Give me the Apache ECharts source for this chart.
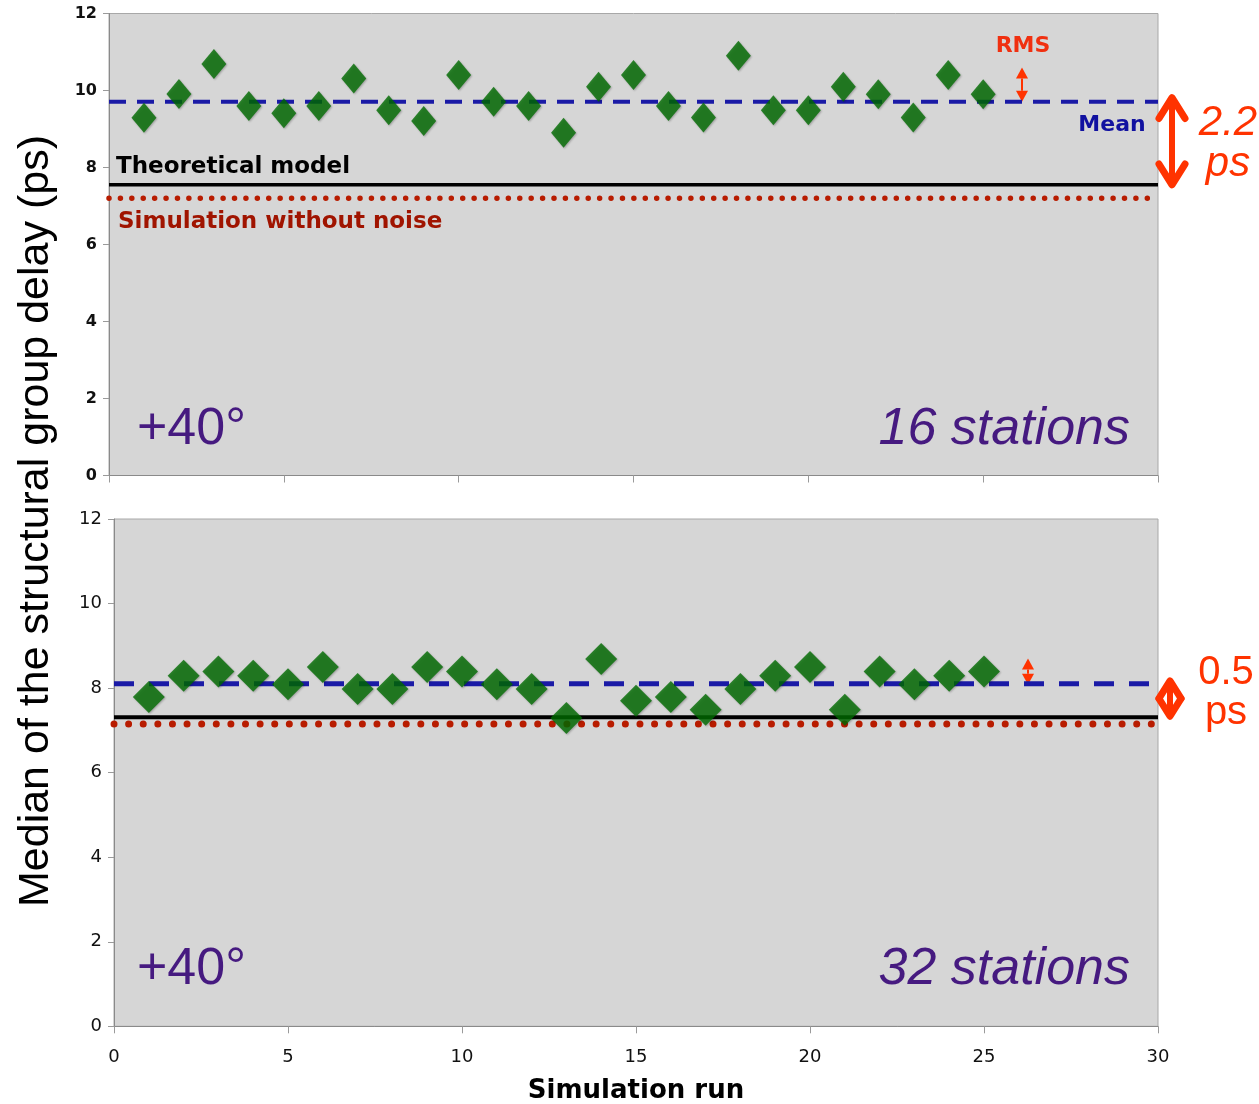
<!DOCTYPE html>
<html>
<head>
<meta charset="utf-8">
<script src="https://cdn.jsdelivr.net/npm/echarts@6/dist/echarts.min.js"></script>
<style>
html,body{margin:0;padding:0;background:#fff;}
#chart{width:1259px;height:1104px;}
</style>
</head>
<body>
<div id="chart"></div>
<script>
// ---- data ----
const runs = [1,2,3,4,5,6,7,8,9,10,11,12,13,14,15,16,17,18,19,20,21,22,23,24,25];
const delays16 = [9.29,9.91,10.69,9.6,9.41,9.6,10.31,9.49,9.21,10.4,9.71,9.6,8.9,10.1,10.4,9.6,9.3,10.9,9.49,9.49,10.1,9.9,9.3,10.4,9.9];
const delays32 = [7.79,8.29,8.39,8.29,8.09,8.5,7.98,7.98,8.5,8.39,8.09,7.98,7.29,8.69,7.7,7.79,7.49,7.98,8.29,8.5,7.49,8.39,8.09,8.29,8.39];
const mean16 = 9.71, model16 = 7.55, noNoise16 = 7.2;
const mean32 = 8.1, model32 = 7.31, noNoise32 = 7.15;
const xRange = [0, 30];
const yTicks = [0, 2, 4, 6, 8, 10, 12];

const GREEN = '#006b00', BLUE = '#1a1aa6', DOT = '#b81c00', ARROW = '#ff3300', PURPLE = '#461a80';

function pts(xs, ys){ return xs.map((x,i)=>[x, ys[i]]); }
function hline(v){ return [[xRange[0], v],[xRange[1], v]]; }

const chart = echarts.init(document.getElementById('chart'), null, {renderer:'canvas'});

const grids = [
  {left:109, top:13.5, width:1049, height:462, show:true, backgroundColor:'#d6d6d6', borderColor:'#a8a8a8', borderWidth:1},
  {left:114, top:519, width:1044, height:507.3, show:true, backgroundColor:'#d6d6d6', borderColor:'#a8a8a8', borderWidth:1}
];

function xAxis(idx, showLabel){
  return {type:'value', gridIndex:idx, min:xRange[0], max:xRange[1], interval:5,
    axisLine:{show:true, onZero:false, lineStyle:{color:'#8a8a8a', width:1}},
    axisTick:{show:true, length:7, lineStyle:{color:'#9a9a9a'}},
    splitLine:{show:false},
    axisLabel:{show:showLabel, color:'#111', fontFamily:'DejaVu Sans', fontSize:18, margin:22}
  };
}
function yAxis(idx, bold, size){
  return {type:'value', gridIndex:idx, min:yTicks[0], max:yTicks[yTicks.length-1], interval:2,
    axisLine:{show:true, onZero:false, lineStyle:{color:'#8a8a8a', width:1}},
    axisTick:{show:true, length:6, lineStyle:{color:'#9a9a9a'}},
    splitLine:{show:false},
    axisLabel:{color:'#111', fontFamily:'DejaVu Sans', fontWeight: bold?'bold':'normal', fontSize:size, margin:12}
  };
}

function lineSeries(idx, v, style){
  return {type:'line', xAxisIndex:idx, yAxisIndex:idx, data:hline(v), symbol:'none', silent:true,
    lineStyle:style, z:2, animation:false};
}

const diamondStyle = {color:GREEN, shadowColor:'rgba(0,0,0,0.3)', shadowBlur:2, shadowOffsetX:1, shadowOffsetY:1};

const option = {
  animation:false,
  grid: grids,
  xAxis: [xAxis(0,false), xAxis(1,true)],
  yAxis: [yAxis(0,true,16), yAxis(1,false,18)],
  series: [
    lineSeries(0, noNoise16, {color:DOT, width:5.5, type:[0.01, 11.4], cap:'round'}),
    lineSeries(0, model16, {color:'#000', width:3.5}),
    lineSeries(0, mean16, {color:BLUE, width:4, type:[17, 11]}),
    {type:'scatter', xAxisIndex:0, yAxisIndex:0, data:pts(runs, delays16), symbol:'diamond', symbolSize:[25,30],
      itemStyle:diamondStyle, z:3},
    lineSeries(1, noNoise32, {color:DOT, width:7, type:[0.01, 14.6], cap:'round'}),
    lineSeries(1, model32, {color:'#000', width:4}),
    lineSeries(1, mean32, {color:BLUE, width:5, type:[20, 15]}),
    {type:'scatter', xAxisIndex:1, yAxisIndex:1, data:pts(runs, delays32), symbol:'diamond', symbolSize:[32,32],
      itemStyle:diamondStyle, z:3}
  ]
};
chart.setOption(option);

// ---- annotations anchored to axis values ----
function px(gi, x, y){ return chart.convertToPixel({gridIndex:gi}, [x, y]); }

function bigArrow(x, y1, y2, head, w){
  return [
    {type:'polyline', shape:{points:[[x,y1+2],[x,y2-2]]}, style:{stroke:ARROW, lineWidth:w, lineCap:'round'}},
    {type:'polyline', shape:{points:[[x-head/2,y1+head*0.8],[x,y1],[x+head/2,y1+head*0.8]]}, style:{stroke:ARROW, fill:null, lineWidth:w+1, lineCap:'round', lineJoin:'round'}},
    {type:'polyline', shape:{points:[[x-head/2,y2-head*0.8],[x,y2],[x+head/2,y2-head*0.8]]}, style:{stroke:ARROW, fill:null, lineWidth:w+1, lineCap:'round', lineJoin:'round'}}
  ];
}
function smallArrow(x, y1, y2){
  const hw = 6, hl = 11;
  return [
    {type:'polyline', shape:{points:[[x,y1+hl],[x,y2-hl]]}, style:{stroke:ARROW, lineWidth:2}},
    {type:'polygon', shape:{points:[[x,y1],[x-hw,y1+hl],[x+hw,y1+hl]]}, style:{fill:ARROW}},
    {type:'polygon', shape:{points:[[x,y2],[x-hw,y2-hl],[x+hw,y2-hl]]}, style:{fill:ARROW}}
  ];
}
function txt(x, y, text, font, color, align){
  return {type:'text', x:x, y:y, style:{text:text, font:font, fill:color, align:align||'left', verticalAlign:'middle'}, z:10};
}

const pMean16 = px(0, 30, mean16)[1], pModel16 = px(0, 30, model16)[1], pNo16 = px(0, 30, noNoise16)[1];
const pMean32 = px(1, 30, mean32)[1], pModel32 = px(1, 30, model32)[1];
const rmsTop16 = px(0, 30, 10.6)[1];
const rmsTop32 = px(1, 30, 8.7)[1];

let g = [];
g = g.concat(smallArrow(1022, rmsTop16, pMean16));
g = g.concat(bigArrow(1172, pMean16 - 4, pModel16, 26, 6));
g = g.concat(smallArrow(1028, rmsTop32, pMean32 + 1));
g = g.concat(bigArrow(1170, pMean32 - 3, pModel32 - 1, 22, 6));

g.push(txt(116, pModel16 - 18, 'Theoretical model', 'bold 23px "DejaVu Sans"', '#000'));
g.push(txt(118, pNo16 + 24, 'Simulation without noise', 'bold 23px "DejaVu Sans"', '#a01400'));
g.push(txt(1023, 46, 'RMS', 'bold 22px "DejaVu Sans"', '#f03010', 'center'));
g.push(txt(1112, 125, 'Mean', 'bold 22px "DejaVu Sans"', '#1111a0', 'center'));
g.push(txt(1228, 123, '2.2', 'italic 42px "Liberation Sans"', ARROW, 'center'));
g.push(txt(1228, 164, 'ps', 'italic 42px "Liberation Sans"', ARROW, 'center'));
g.push(txt(1226, 673, '0.5', '40px "Liberation Sans"', ARROW, 'center'));
g.push(txt(1226, 713, 'ps', '40px "Liberation Sans"', ARROW, 'center'));
g.push(txt(137, 430, '+40°', '52px "Liberation Sans"', PURPLE));
g.push(txt(1130, 430, '16 stations', 'italic 52px "Liberation Sans"', PURPLE, 'right'));
g.push(txt(137, 970, '+40°', '52px "Liberation Sans"', PURPLE));
g.push(txt(1130, 970, '32 stations', 'italic 52px "Liberation Sans"', PURPLE, 'right'));
g.push(txt(636, 1091, 'Simulation run', 'bold 26px "DejaVu Sans"', '#000', 'center'));
g.push({type:'text', x:36, y:521, rotation:Math.PI/2,
  style:{text:'Median of the structural group delay (ps)', font:'43px "Liberation Sans"', fill:'#000', align:'center', verticalAlign:'middle'}, z:10});

chart.setOption({graphic:g});
</script>
</body>
</html>
